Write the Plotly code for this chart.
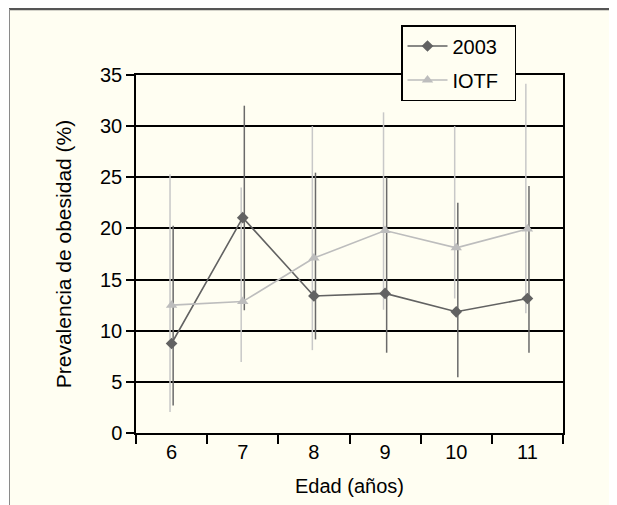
import plotly.graph_objects as go

# ---- data ----
edades = [6, 7, 8, 9, 10, 11]
edad_labels = ["6", "7", "8", "9", "10", "11"]
prev_2003 = [8.75, 21.05, 13.4, 13.65, 11.85, 13.15]
inf_2003 = [2.7, 12.0, 9.15, 7.85, 5.45, 7.85]
sup_2003 = [20.25, 32.0, 25.45, 25.0, 22.5, 24.15]
prev_iotf = [12.5, 12.85, 17.1, 19.8, 18.1, 19.95]
inf_iotf = [2.05, 6.95, 8.1, 12.05, 13.15, 11.7]
sup_iotf = [25.3, 24.0, 30.0, 31.35, 30.0, 34.15]
y_ticks = [0, 5, 10, 15, 20, 25, 30, 35]

# ---- layout geometry (pixels) ----
PAGE_W, PAGE_H = 617, 505
OFF = 8  # default body margin of the html page
W, H = PAGE_W - OFF, PAGE_H - OFF
ML = 136 - OFF
MT = 75 - OFF
MR = round(W - (563.3 - OFF))
MB = round(H - (432.7 - OFF))
PW, PH = W - ML - MR, H - MT - MB


def px_x(px):
    return (px - OFF - ML) / PW


def px_y(py):
    return (H - MB - (py - OFF)) / PH


CREAM = "#FFFEF2"
FONT = "Liberation Sans, Arial, Helvetica, sans-serif"
DARK = "#626262"
LIGHT = "#BDBDBD"
SHIFT = 0.022  # small horizontal separation of the two error bars (style)

fig = go.Figure()

# error bars (slightly separated so both stay visible, as in the original)
fig.add_trace(go.Scatter(
    x=[e - SHIFT for e in edades], y=prev_iotf, mode="markers",
    marker=dict(size=1, opacity=0), showlegend=False, hoverinfo="skip",
    error_y=dict(type="data", symmetric=False,
                 array=[s - v for s, v in zip(sup_iotf, prev_iotf)],
                 arrayminus=[v - i for v, i in zip(prev_iotf, inf_iotf)],
                 color="#C8C8C8", thickness=1.5, width=0),
))
fig.add_trace(go.Scatter(
    x=[e + SHIFT for e in edades], y=prev_2003, mode="markers",
    marker=dict(size=1, opacity=0), showlegend=False, hoverinfo="skip",
    error_y=dict(type="data", symmetric=False,
                 array=[s - v for s, v in zip(sup_2003, prev_2003)],
                 arrayminus=[v - i for v, i in zip(prev_2003, inf_2003)],
                 color="#6A6A6A", thickness=1.5, width=0),
))

fig.add_trace(go.Scatter(
    x=edades, y=prev_2003, name="2003\u00a0\u00a0", legendgroup="a",
    mode="lines+markers",
    line=dict(color=DARK, width=1.6),
    marker=dict(symbol="diamond", size=9, color=DARK),
))
fig.add_trace(go.Scatter(
    x=edades, y=prev_iotf, name="IOTF\u00a0\u00a0", legendgroup="b",
    mode="lines+markers",
    line=dict(color=LIGHT, width=1.6),
    marker=dict(symbol="triangle-up", size=10, color=LIGHT),
))

# cream card with dark top border and grey left border
fig.add_shape(type="rect", xref="paper", yref="paper", layer="below",
              x0=px_x(9), x1=px_x(PAGE_W + 5), y0=px_y(PAGE_H + 5), y1=px_y(9),
              fillcolor=CREAM, line=dict(width=0))
fig.add_shape(type="line", xref="paper", yref="paper", layer="below",
              x0=px_x(9), x1=px_x(PAGE_W + 5), y0=px_y(9), y1=px_y(9),
              line=dict(color="#555555", width=2.5))
fig.add_shape(type="line", xref="paper", yref="paper", layer="below",
              x0=px_x(9.5), x1=px_x(9.5), y0=px_y(9), y1=px_y(PAGE_H + 5),
              line=dict(color="#8A8A8A", width=1))

fig.update_layout(
    width=W, height=H,
    margin=dict(l=ML, r=MR, t=MT, b=MB, autoexpand=False),
    paper_bgcolor="white",
    plot_bgcolor=CREAM,
    font=dict(family=FONT, size=20, color="black"),
    showlegend=True,
    legend=dict(
        x=px_x(401), y=px_y(25), xanchor="left", yanchor="top",
        bgcolor=CREAM, bordercolor="black", borderwidth=1.5,
        font=dict(family=FONT, size=20, color="black"),
        tracegroupgap=5, itemwidth=40,
    ),
    xaxis=dict(
        range=[edades[0] - 0.5, edades[-1] + 0.5],
        tickvals=edades, ticktext=edad_labels, ticks="", ticklen=9,
        minor=dict(tick0=edades[0] - 0.5, dtick=1, ticks="outside",
                   ticklen=9, tickwidth=1.5, tickcolor="black", showgrid=False),
        showline=True, linecolor="black", linewidth=1.5, mirror=True,
        showgrid=False, zeroline=False,
        title=dict(text="Edad (años)", font=dict(size=20), standoff=17),
        tickfont=dict(size=20),
    ),
    yaxis=dict(
        range=[0, 35], tickvals=y_ticks, ticks="outside",
        ticklen=8, tickwidth=1.5, tickcolor="black",
        showline=True, linecolor="black", linewidth=1.5, mirror=True,
        showgrid=True, gridcolor="black", gridwidth=1.5,
        zeroline=False,
        title=dict(text="Prevalencia de obesidad (%)", font=dict(size=21), standoff=23),
        tickfont=dict(size=20),
    ),
)

fig.write_html("out.html")
